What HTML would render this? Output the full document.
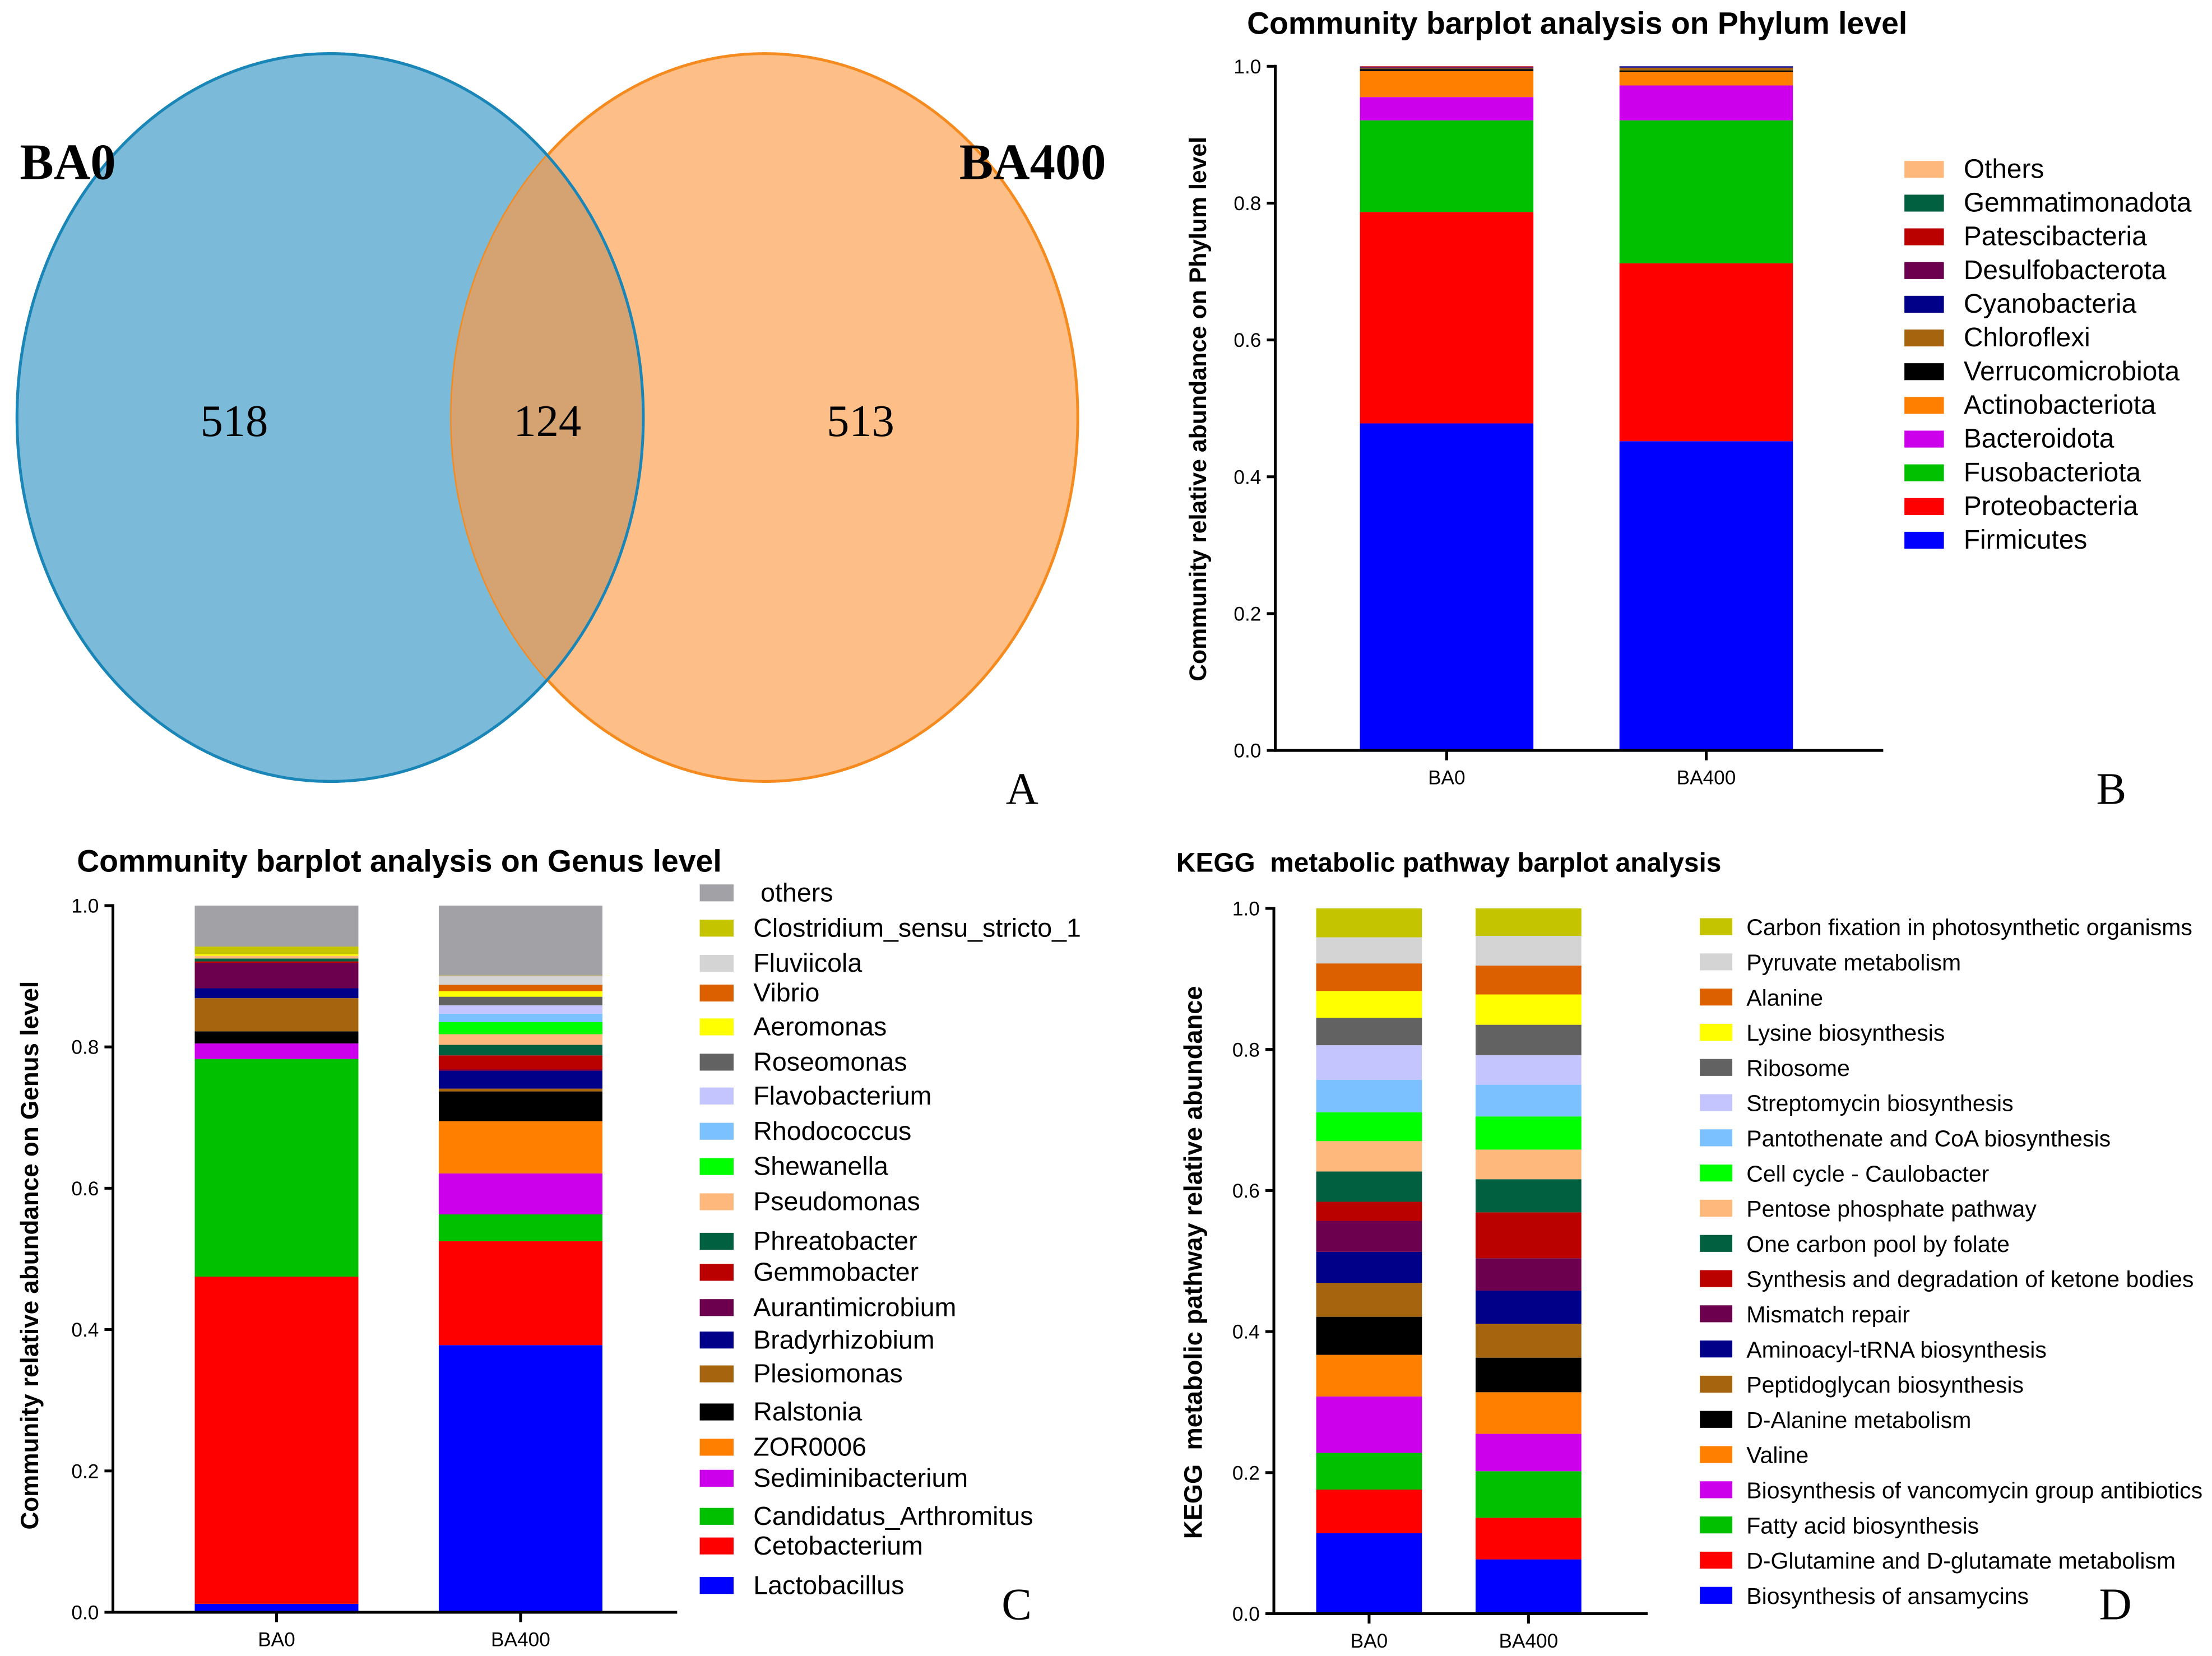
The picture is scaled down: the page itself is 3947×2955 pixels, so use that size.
<!DOCTYPE html>
<html><head><meta charset="utf-8"><style>
html,body{margin:0;padding:0;background:#fff}
svg{display:block}
text{font-family:"Liberation Sans",sans-serif;white-space:pre}
</style></head><body>
<svg id="fig" width="3947" height="2955" viewBox="0 0 1568 1174" xmlns="http://www.w3.org/2000/svg">
<defs><clipPath id="clipBlue"><ellipse cx="234" cy="296" rx="222" ry="258"/></clipPath></defs>
<g>
<ellipse cx="234" cy="296" rx="222" ry="258" fill="#7bbad8" stroke="#1a86b8" stroke-width="2"/>
<ellipse cx="542" cy="296" rx="222" ry="258" fill="#fdbf87" stroke="#f58b1f" stroke-width="2"/>
<ellipse cx="542" cy="296" rx="222" ry="258" fill="#d5a272" clip-path="url(#clipBlue)"/>
<ellipse cx="234" cy="296" rx="222" ry="258" fill="none" stroke="#1a86b8" stroke-width="2"/>
<text x="14" y="127" font-weight="bold" font-size="36" style="font-family:'Liberation Serif',serif">BA0</text>
<text x="680" y="127" font-weight="bold" font-size="36" style="font-family:'Liberation Serif',serif">BA400</text>
<text x="166" y="309" text-anchor="middle" font-size="32" style="font-family:'Liberation Serif',serif">518</text>
<text x="388" y="309" text-anchor="middle" font-size="32" style="font-family:'Liberation Serif',serif">124</text>
<text x="610" y="309" text-anchor="middle" font-size="32" style="font-family:'Liberation Serif',serif">513</text>
<text x="713" y="570" font-size="32" style="font-family:'Liberation Serif',serif">A</text>
</g>
<text x="1486" y="570" font-size="32" style="font-family:'Liberation Serif',serif">B</text>
<text x="710" y="1148" font-size="32" style="font-family:'Liberation Serif',serif">C</text>
<text x="1488" y="1148" font-size="32" style="font-family:'Liberation Serif',serif">D</text>
</svg>
<script>
const NS="http://www.w3.org/2000/svg";
const svg=document.getElementById('fig');
const groups=["BA0","BA400"];
const yTicks=[0,0.2,0.4,0.6,0.8,1.0];
const yTickLabels=["0.0","0.2","0.4","0.6","0.8","1.0"];

const phylumNames=["Firmicutes","Proteobacteria","Fusobacteriota","Bacteroidota","Actinobacteriota","Verrucomicrobiota","Chloroflexi","Cyanobacteria","Desulfobacterota","Patescibacteria","Gemmatimonadota","Others"];
const phylumBA0=[0.478,0.309,0.134,0.034,0.038,0.003,0.001,0.001,0.001,0.001,0.0,0.0];
const phylumBA400=[0.452,0.260,0.209,0.051,0.020,0.002,0.004,0.002,0.0,0.0,0.0,0.0];
const phylumColors=["#0000ff","#ff0000","#00c000","#cc00ea","#ff8000","#000000","#a5640d","#000088","#6c004f","#bb0000","#006040","#ffb87c"];

const genusNames=["Lactobacillus","Cetobacterium","Candidatus_Arthromitus","Sediminibacterium","ZOR0006","Ralstonia","Plesiomonas","Bradyrhizobium","Aurantimicrobium","Gemmobacter","Phreatobacter","Pseudomonas","Shewanella","Rhodococcus","Flavobacterium","Roseomonas","Aeromonas","Vibrio","Fluviicola","Clostridium_sensu_stricto_1"," others"];
const genusBA0=[0.012,0.463,0.308,0.022,0.0,0.017,0.047,0.014,0.036,0.002,0.004,0.004,0.0,0.0,0.0,0.0,0.002,0.0,0.0,0.011,0.058];
const genusBA400=[0.378,0.147,0.038,0.058,0.074,0.042,0.004,0.025,0.002,0.020,0.015,0.015,0.017,0.012,0.012,0.012,0.008,0.009,0.012,0.001,0.099];
const genusColors=["#0000ff","#ff0000","#00c000","#cc00ea","#ff8000","#000000","#a5640d","#000088","#6c004f","#bb0000","#006040","#ffb87c","#00ff00","#7bc0ff","#c4c4ff","#626262","#ffff00","#dc6000","#d4d4d4","#c4c400","#a2a2a6"];
const genusLegendY=[1124,1096,1075,1048,1026,1001,974,950,927,902,880,852,827,802,777,753,728,704,683,658,633];

const keggNames=["Biosynthesis of ansamycins","D-Glutamine and D-glutamate metabolism","Fatty acid biosynthesis","Biosynthesis of vancomycin group antibiotics","Valine","D-Alanine metabolism","Peptidoglycan biosynthesis","Aminoacyl-tRNA biosynthesis","Mismatch repair","Synthesis and degradation of ketone bodies","One carbon pool by folate","Pentose phosphate pathway","Cell cycle - Caulobacter","Pantothenate and CoA biosynthesis","Streptomycin biosynthesis","Ribosome","Lysine biosynthesis","Alanine","Pyruvate metabolism","Carbon fixation in photosynthetic organisms"];
const keggBA0=[0.114,0.062,0.052,0.080,0.059,0.054,0.048,0.044,0.044,0.027,0.043,0.043,0.041,0.046,0.049,0.039,0.038,0.039,0.037,0.041];
const keggBA400=[0.077,0.059,0.066,0.053,0.059,0.049,0.048,0.047,0.046,0.065,0.047,0.042,0.047,0.045,0.042,0.043,0.043,0.041,0.042,0.039];
const keggColors=["#0000ff","#ff0000","#00c000","#cc00ea","#ff8000","#000000","#a5640d","#000088","#6c004f","#bb0000","#006040","#ffb87c","#00ff00","#7bc0ff","#c4c4ff","#626262","#ffff00","#dc6000","#d4d4d4","#c4c400"];

function el(tag,attrs,parent,txt){const e=document.createElementNS(NS,tag);for(const k in attrs)e.setAttribute(k,attrs[k]);if(txt!==undefined)e.textContent=txt;(parent||svg).appendChild(e);return e;}

function panel(cfg){
  const g=el('g',{});
  
  
  const yS=v=>cfg.y0-(cfg.y0-cfg.y1)*v;
  const t=el('text',{x:cfg.titleX,y:cfg.titleY,'text-anchor':'middle','font-weight':'bold','font-size':cfg.titleFont},g,cfg.title);
  
  
  cfg.series.forEach((vals,i)=>{
    let cum=0;
    vals.forEach((v,j)=>{
      if(v<=0)return;
      const r=el('rect',{x:cfg.barX[i],y:yS(cum+v),width:cfg.barW,height:yS(cum)-yS(cum+v),fill:cfg.colors[j]},g);
      
      
      cum+=v;
    });
  });
  const ya=el('line',{x1:cfg.ax,y1:cfg.y1-1,x2:cfg.ax,y2:cfg.y0+1,stroke:'#000','stroke-width':2},g);
  
  
  const xa=el('line',{x1:cfg.ax-1,y1:cfg.y0,x2:cfg.axEnd,y2:cfg.y0,stroke:'#000','stroke-width':2},g);
  
  
  yTicks.forEach((v,i)=>{
    el('line',{x1:cfg.ax-6,y1:yS(v),x2:cfg.ax,y2:yS(v),stroke:'#000','stroke-width':2},g);
    const tl=el('text',{x:cfg.ax-10,y:yS(v)+5,'text-anchor':'end','font-size':14},g,yTickLabels[i]);
    
    
  });
  groups.forEach((gname,i)=>{
    const cx=cfg.barX[i]+cfg.barW/2;
    el('line',{x1:cx,y1:cfg.y0,x2:cx,y2:cfg.y0+7,stroke:'#000','stroke-width':2},g);
    const xl=el('text',{x:cx,y:cfg.y0+24,'text-anchor':'middle','font-size':14},g,gname);
    
    
  });
  const yl=el('text',{x:0,y:0,'text-anchor':'middle','font-weight':'bold','font-size':cfg.ylFont,transform:`translate(${cfg.ylX},${cfg.ylY}) rotate(-90)`},g,cfg.ylabel);
  
  
  cfg.names.forEach((n,j)=>{
    const ly=cfg.legY(j);
    const lg=el('g',{},g);
    
    
    el('rect',{x:cfg.legX,y:ly-6,width:cfg.legW,height:12,fill:cfg.colors[j]},lg);
    el('text',{x:cfg.legTX,y:ly+6,'font-size':cfg.legFont},lg,n);
  });
}

panel({name:'phylum-chart',title:'Community barplot analysis on Phylum level',titleX:1118,titleY:24,titleFont:22,
  y0:532,y1:47,ax:904,axEnd:1335,barX:[964,1148],barW:123,series:[phylumBA0,phylumBA400],
  names:phylumNames,colors:phylumColors,ylabel:'Community relative abundance on Phylum level',ylX:855,ylY:290,ylFont:17,
  legX:1350,legW:28,legTX:1392,legFont:19,legY:j=>383-j*23.9});
panel({name:'genus-chart',title:'Community barplot analysis on Genus level',titleX:283,titleY:618,titleFont:22,
  y0:1143,y1:642,ax:80,axEnd:480,barX:[138,311],barW:116,series:[genusBA0,genusBA400],
  names:genusNames,colors:genusColors,ylabel:'Community relative abundance on Genus level',ylX:27,ylY:890,ylFont:17.5,
  legX:496,legW:24,legTX:534,legFont:18.5,legY:j=>genusLegendY[j]});
panel({name:'kegg-chart',title:'KEGG  metabolic pathway barplot analysis',titleX:1027,titleY:618,titleFont:19,
  y0:1144,y1:644,ax:903,axEnd:1168,barX:[933,1046],barW:75,series:[keggBA0,keggBA400],
  names:keggNames,colors:keggColors,ylabel:'KEGG  metabolic pathway relative abundance',ylX:852,ylY:895,ylFont:18,
  legX:1205,legW:23,legTX:1238,legFont:16.3,legY:j=>1131-j*24.95});
</script>
</body></html>
